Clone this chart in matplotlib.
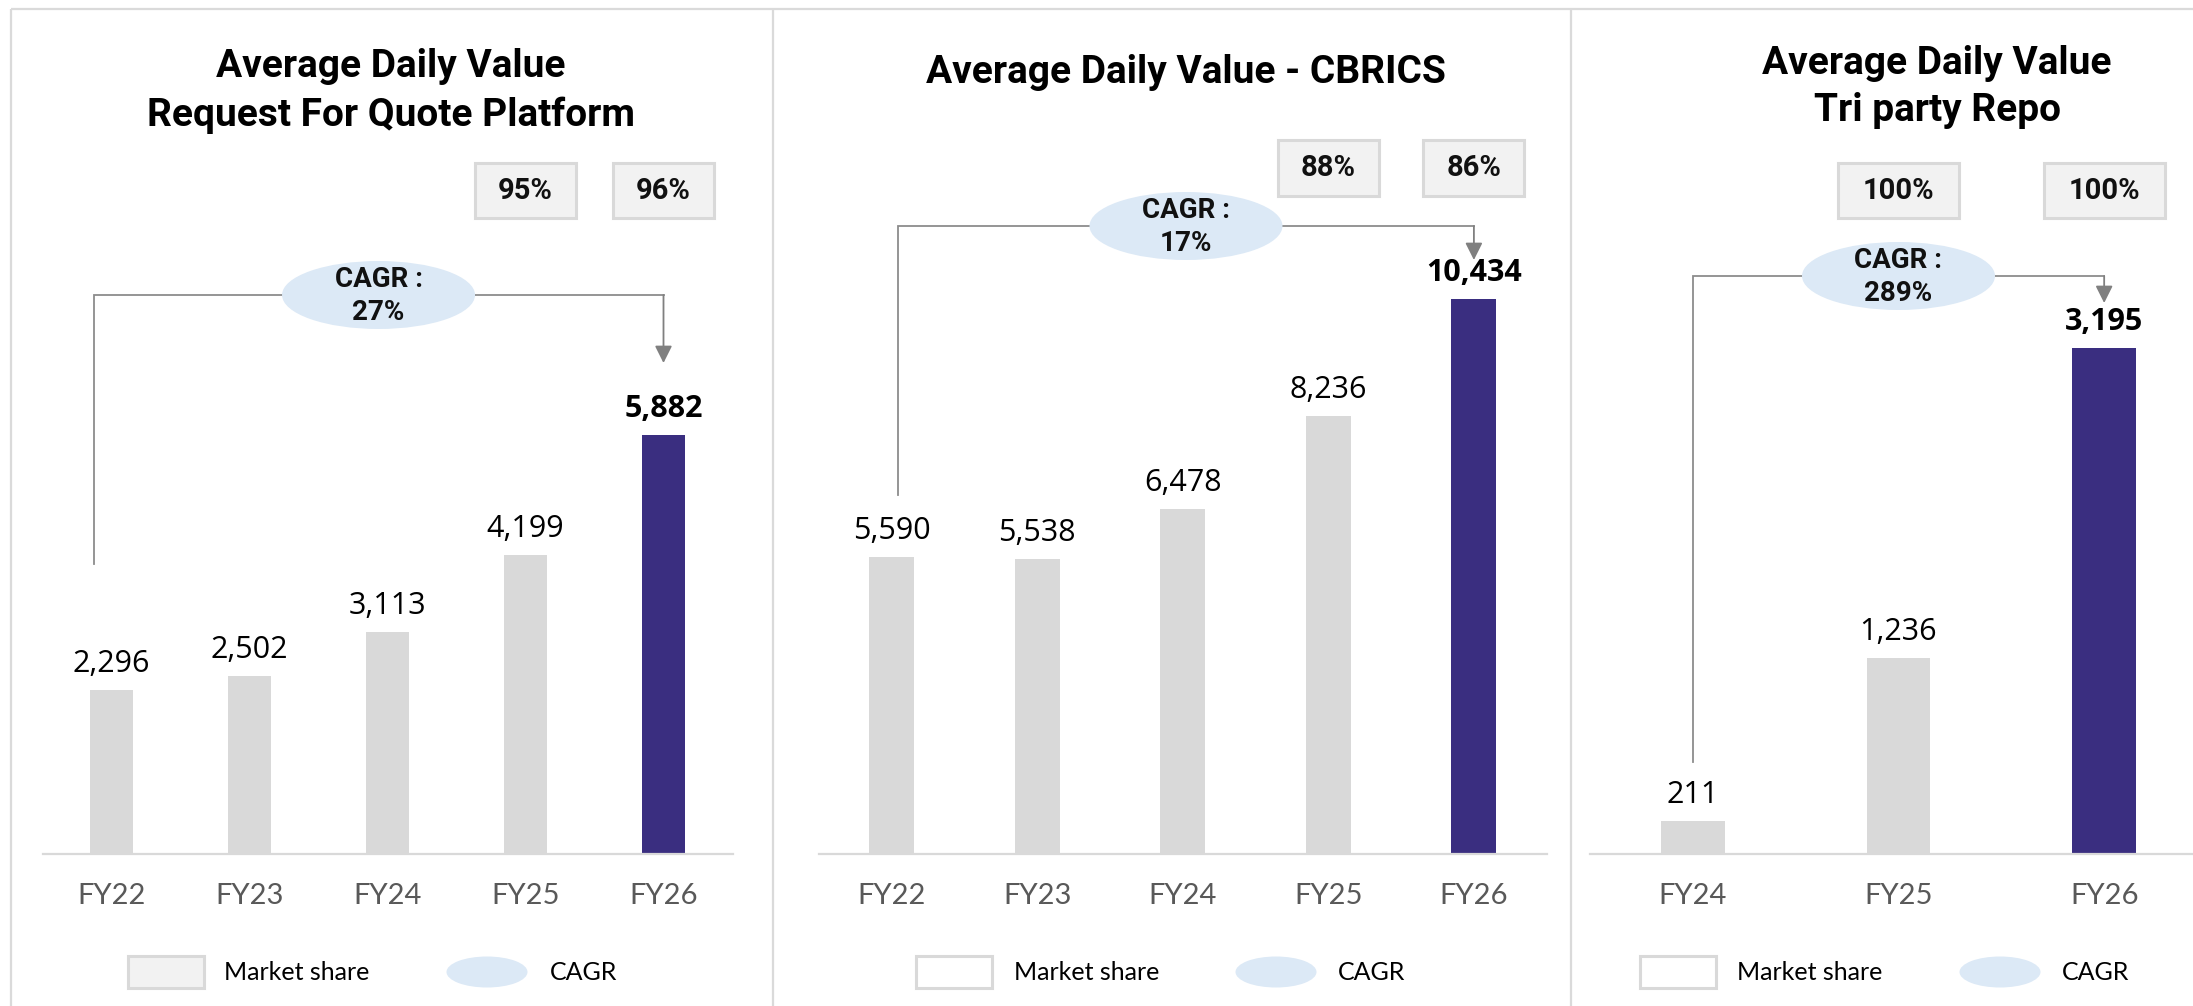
import matplotlib
matplotlib.use("Agg")
import matplotlib.pyplot as plt
from matplotlib.patches import Ellipse, Rectangle
from matplotlib import font_manager as fm

# ---------------- data ----------------
rfq_years = ["FY22", "FY23", "FY24", "FY25", "FY26"]
rfq_values = [2296, 2502, 3113, 4199, 5882]
rfq_share = ["95%", "96%"]          # FY25, FY26
rfq_cagr = "27%"
rfq_title = "Average Daily Value\nRequest For Quote Platform"

cbrics_years = ["FY22", "FY23", "FY24", "FY25", "FY26"]
cbrics_values = [5590, 5538, 6478, 8236, 10434]
cbrics_share = ["88%", "86%"]       # FY25, FY26
cbrics_cagr = "17%"
cbrics_title = "Average Daily Value - CBRICS"

trep_years = ["FY24", "FY25", "FY26"]
trep_values = [211, 1236, 3195]
trep_share = ["100%", "100%"]       # FY25, FY26
trep_cagr = "289%"
trep_title = "Average Daily Value\nTri party Repo"

legend_labels = ["Market share", "CAGR"]

# ---------------- fonts ----------------
def has_font(name):
    try:
        fm.findfont(fm.FontProperties(family=name), fallback_to_default=False)
        return True
    except Exception:
        return False

BOLD_FONT = "Roboto" if has_font("Roboto") else "DejaVu Sans"
NUM_FONT = "Open Sans" if has_font("Open Sans") else "DejaVu Sans"
AX_FONT = "Lato" if has_font("Lato") else "DejaVu Sans"

# ---------------- style ----------------
GRAY_BAR = "#d9d9d9"
NAVY = "#3a2e80"
BOX_FILL = "#f2f2f2"
BOX_EDGE = "#d9d9d9"
ELL_FILL = "#dce9f6"
LINE_GRAY = "#8c8c8c"
ARROW_GRAY = "#808080"
BORDER = "#dadada"
TICK_COLOR = "#595959"

W, H = 2193, 1006
fig = plt.figure(figsize=(W / 100, H / 100), dpi=100)
fig.patch.set_facecolor("white")

AX_BOTTOM_PX = 854
AX_TOP_PX = 100

panels = [
    dict(years=rfq_years, values=rfq_values, share=rfq_share, cagr=rfq_cagr, title=rfq_title,
         ax_px=(42.5, 732.5), ymax=10584, dx=-0.13, br_bottom=564, br_top=295, tip=363,
         box_y=(163, 218), box_w=101, title_xy=(391, 91),
         leg_box_x=128, leg_text_x=224, leg_ell_x=487, leg_cagr_x=550, leg_fill=BOX_FILL),
    dict(years=cbrics_years, values=cbrics_values, share=cbrics_share, cagr=cbrics_cagr, title=cbrics_title,
         ax_px=(818.7, 1546.7), ymax=14176, dx=0.045, br_bottom=495, br_top=226, tip=260,
         box_y=(140, 196), box_w=101, title_xy=(1186, 72),
         leg_box_x=916, leg_text_x=1014, leg_ell_x=1276, leg_cagr_x=1338, leg_fill="white"),
    dict(years=trep_years, values=trep_values, share=trep_share, cagr=trep_cagr, title=trep_title,
         ax_px=(1590, 2207), ymax=4760, dx=0.0, br_bottom=762, br_top=276, tip=303,
         box_y=(163, 218), box_w=121, title_xy=(1937, 87),
         leg_box_x=1640, leg_text_x=1737, leg_ell_x=2000, leg_cagr_x=2062, leg_fill="white"),
]

# overlay axes in pixel coordinates (origin top-left)
ov = fig.add_axes([0, 0, 1, 1], zorder=5)
ov.set_xlim(0, W)
ov.set_ylim(H, 0)
ov.axis("off")
ov.patch.set_alpha(0)

# panel borders
ov.plot([11, W], [9, 9], color=BORDER, lw=1.6, solid_capstyle="butt")
for xb in [11, 773, 1571]:
    ov.plot([xb, xb], [9, H], color=BORDER, lw=1.6, solid_capstyle="butt")


def to_px(ax, x, y):
    dx, dy = ax.transData.transform((x, y))
    return dx, H - dy


for p in panels:
    n = len(p["years"])
    x0, x1 = p["ax_px"]
    ax = fig.add_axes([x0 / W, (H - AX_BOTTOM_PX) / H, (x1 - x0) / W,
                       (AX_BOTTOM_PX - AX_TOP_PX) / H], zorder=2)
    ax.patch.set_alpha(0)
    xs = list(range(n))
    colors = [GRAY_BAR] * (n - 1) + [NAVY]
    ax.bar(xs, p["values"], width=0.31, color=colors, zorder=2)
    ax.set_xlim(-0.5, n - 0.5)
    ax.set_ylim(0, p["ymax"])
    for s in ["top", "right", "left"]:
        ax.spines[s].set_visible(False)
    ax.spines["bottom"].set_color("#d9d9d9")
    ax.spines["bottom"].set_linewidth(1.6)
    ax.set_yticks([])
    ax.set_xticks(xs)
    ax.set_xticklabels(p["years"], fontsize=21, color=TICK_COLOR, family=AX_FONT)
    ax.tick_params(axis="x", length=0, pad=21)

    # value labels
    for i, v in enumerate(p["values"]):
        last = i == n - 1
        ax.annotate(f"{v:,}", (i, v), xytext=(0, 18), textcoords="offset pixels",
                    ha="center", va="baseline", family=NUM_FONT,
                    fontsize=22, fontweight="bold" if last else "normal",
                    color="black")

    # market share boxes above the last two bars
    by0, by1 = p["box_y"]
    for k, txt in enumerate(p["share"]):
        cx, _ = to_px(ax, n - 2 + k, 0)
        ov.add_patch(Rectangle((cx - p["box_w"] / 2, by0), p["box_w"], by1 - by0,
                               facecolor=BOX_FILL, edgecolor=BOX_EDGE, lw=2.2))
        ov.text(cx, (by0 + by1) / 2, txt, ha="center", va="center", family=BOLD_FONT,
                fontweight="bold", fontsize=21, color="#111111")

    # CAGR bracket
    lx, _ = to_px(ax, 0 + p["dx"], 0)
    rx, _ = to_px(ax, n - 1, 0)
    ov.plot([lx, lx, rx], [p["br_bottom"], p["br_top"], p["br_top"]],
            color=LINE_GRAY, lw=1.3, solid_joinstyle="miter")
    ov.annotate("", xy=(rx, p["tip"]), xytext=(rx, p["br_top"]),
                arrowprops=dict(arrowstyle="-|>", color=ARROW_GRAY, lw=1.3,
                                mutation_scale=26, shrinkA=0, shrinkB=0))
    ecx = (lx + rx) / 2
    ov.add_patch(Ellipse((ecx, p["br_top"]), 193, 68, facecolor=ELL_FILL,
                         edgecolor="none", zorder=3))
    ov.text(ecx, p["br_top"] + 1, "CAGR :\n" + p["cagr"], ha="center", va="center",
            family=BOLD_FONT, fontweight="bold", fontsize=20, linespacing=1.25,
            color="#111111", zorder=4)

    # title
    tx, ty = p["title_xy"]
    ov.text(tx, ty, p["title"], ha="center", va="center", family=BOLD_FONT,
            fontweight="bold", fontsize=28, linespacing=1.36, color="black")

    # legend
    ly = 972
    ov.add_patch(Rectangle((p["leg_box_x"], ly - 16), 76, 32, facecolor=p["leg_fill"],
                           edgecolor=BOX_EDGE, lw=2.2))
    ov.text(p["leg_text_x"], ly, legend_labels[0], ha="left", va="center",
            family=AX_FONT, fontsize=18, color="black")
    ov.add_patch(Ellipse((p["leg_ell_x"], ly), 81, 31, facecolor=ELL_FILL, edgecolor="none"))
    ov.text(p["leg_cagr_x"], ly, legend_labels[1], ha="left", va="center",
            family=AX_FONT, fontsize=18, color="black")

fig.savefig("out.png", dpi=100, facecolor="white")
